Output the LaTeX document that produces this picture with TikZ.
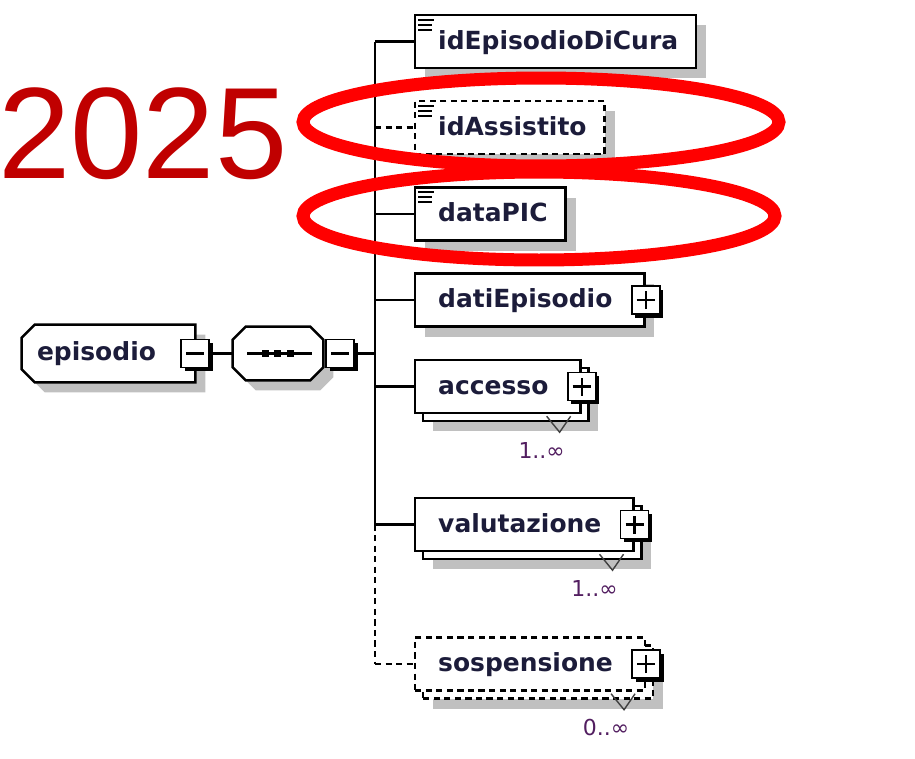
\documentclass[tikz,border=0pt]{standalone}
\usepackage{fontspec}
\setmainfont{DejaVu Sans}
\newfontfamily\yearfont{Liberation Sans}
\usetikzlibrary{calc,positioning,shadows,backgrounds}
\definecolor{yearred}{RGB}{192,0,0}
\definecolor{markred}{RGB}{255,0,0}
\definecolor{inkblue}{RGB}{28,28,58}
\definecolor{cardviolet}{RGB}{82,30,96}
\definecolor{shadowgray}{RGB}{192,192,192}
\tikzset{
  wire/.style={line width=1.4pt},
  opt/.style={dash pattern=on 3.5pt off 2.5pt},
  base/.style={draw,line width=1.4pt,fill=white,inner sep=0pt,
    font=\fontsize{14.2}{16}\selectfont\bfseries,text=inkblue},
  elembox/.style={base,minimum height=1.06cm,inner xsep=0.36cm,
    text height=0.4cm,text depth=0.1cm,
    execute at begin node={\hspace*{0.1cm}}},
  plusroom/.style={execute at end node={\hspace*{0.28cm}}},
  single/.style={elembox,drop shadow={shadow xshift=0.2cm,shadow yshift=-0.2cm,fill=shadowgray,opacity=1}},
  multibox/.style={elembox,
    drop shadow={shadow xshift=0.36cm,shadow yshift=-0.36cm,fill=shadowgray,opacity=1},
    copy shadow={shadow xshift=0.16cm,shadow yshift=-0.16cm}},
  octa/.style={draw,line width=1.4pt,fill=white,
    drop shadow={shadow xshift=0.2cm,shadow yshift=-0.2cm,fill=shadowgray,opacity=1}},
  plain/.style={inner sep=0pt,font=\fontsize{14.2}{16}\selectfont\bfseries,text=inkblue},
  togglebox/.style={draw,line width=1pt,fill=white,minimum size=0.56cm,inner sep=0pt,
    drop shadow={shadow xshift=0.07cm,shadow yshift=-0.07cm,fill=black,opacity=1}},
  minus/.style={togglebox,path picture={
    \draw[line width=1.2pt] ($(path picture bounding box.center)+(-0.18cm,0)$) -- ($(path picture bounding box.center)+(0.18cm,0)$);}},
  plus/.style={togglebox,path picture={
    \draw[line width=1.2pt] ($(path picture bounding box.center)+(-0.18cm,0)$) -- ($(path picture bounding box.center)+(0.18cm,0)$)
      ($(path picture bounding box.center)+(0,-0.18cm)$) -- ($(path picture bounding box.center)+(0,0.18cm)$);}},
  card/.style={font=\fontsize{12.5}{14}\selectfont,text=cardviolet,inner sep=0pt},
  redring/.style={draw=markred,line width=0.26cm}
}
\begin{document}
\begin{tikzpicture}[x=0.02cm,y=-0.02cm]
\useasboundingbox (0,0) rectangle (915,758);
\node[anchor=base west,inner sep=0pt,text=yearred,font=\yearfont\fontsize{74}{80}\selectfont] (year) at (-2,178) {2025};

\node[plain,minimum width=3.46cm,minimum height=1.14cm] (episodio) at (108.5,353.5) {episodio\hspace*{0.48cm}};
\node[minus] (epiToggle) at (episodio.east) {};
\node[plain,minimum width=1.8cm,minimum height=1.06cm] (seq) at (278,353.5) {};
\begin{scope}[on background layer]
\draw[octa] ($(episodio.north west)+(13,0)$) -- (episodio.north east) -- (episodio.south east)
  -- ($(episodio.south west)+(13,0)$) -- ($(episodio.south west)+(0,-13)$) -- ($(episodio.north west)+(0,13)$) -- cycle;
\draw[octa] ($(seq.north west)+(13,0)$) -- ($(seq.north east)+(-13,0)$) -- ($(seq.north east)+(0,13)$)
  -- ($(seq.south east)+(0,-13)$) -- ($(seq.south east)+(-13,0)$) -- ($(seq.south west)+(13,0)$)
  -- ($(seq.south west)+(0,-13)$) -- ($(seq.north west)+(0,13)$) -- cycle;
\end{scope}
\draw[line width=1.2pt] ($(seq.center)+(-31,0)$) -- ($(seq.center)+(34,0)$);
\foreach \x in {-13,-1,12}
  \fill ($(seq.center)+(\x,0)$) +(-3.5,-3.5) rectangle +(3.5,3.5);
\node[minus,right=0.04cm of seq] (seqToggle) {};
\coordinate (hub) at (375,353.5);

\node[single,anchor=west] (idEpisodio) at (414,41.5) {idEpisodioDiCura};
\node[single,opt,anchor=west] (idAssistito) at (414,127.5) {idAssistito};
\node[single,anchor=west] (dataPIC) at (414,214) {dataPIC};
\node[single,plusroom,anchor=west] (datiEpisodio) at (414,300) {datiEpisodio};
\node[multibox,plusroom,anchor=west] (accesso) at (414,386.5) {accesso};
\node[multibox,plusroom,anchor=west] (valutazione) at (414,524.5) {valutazione};
\node[multibox,opt,plusroom,anchor=west] (sospensione) at (414,664) {sospensione};

\foreach \n in {idEpisodio,idAssistito,dataPIC} {
  \draw[line width=1.1pt] ($(\n.north west)+(4,6)$) -- +(16,0);
  \draw[line width=1.1pt] ($(\n.north west)+(4,11)$) -- +(14,0);
  \draw[line width=1.1pt] ($(\n.north west)+(4,16)$) -- +(14,0);
}
\foreach \n in {datiEpisodio,accesso,valutazione,sospensione}
  \node[plus] (\n-toggle) at (\n.east) {};
\foreach \n/\lo in {accesso/1,valutazione/1,sospensione/0} {
  \draw[line width=0.8pt,black!75] ($(\n.south east)+(-35,2)$) -- ++(13,16) -- ++(11,-16);
  \node[card] (\n-card) at ($(\n.south east)+(-40,36)$) {\lo..∞};
}

\draw[wire] (epiToggle.east) -- (seq.west);
\draw[wire] (seqToggle.east) -- (hub);
\draw[wire] (hub |- idEpisodio.west) -- (hub |- valutazione.west);
\draw[wire,opt] (hub |- valutazione.west) -- (hub |- sospensione.west);
\foreach \n in {idEpisodio,dataPIC,datiEpisodio,accesso,valutazione}
  \draw[wire] (hub |- \n.west) -- (\n.west);
\foreach \n in {idAssistito,sospensione}
  \draw[wire,opt] (hub |- \n.west) -- (\n.west);

\draw[redring] (541,122) ellipse [x radius=4.76cm,y radius=0.88cm];
\draw[redring] (539,216) ellipse [x radius=4.72cm,y radius=0.88cm];
\end{tikzpicture}
\end{document}
